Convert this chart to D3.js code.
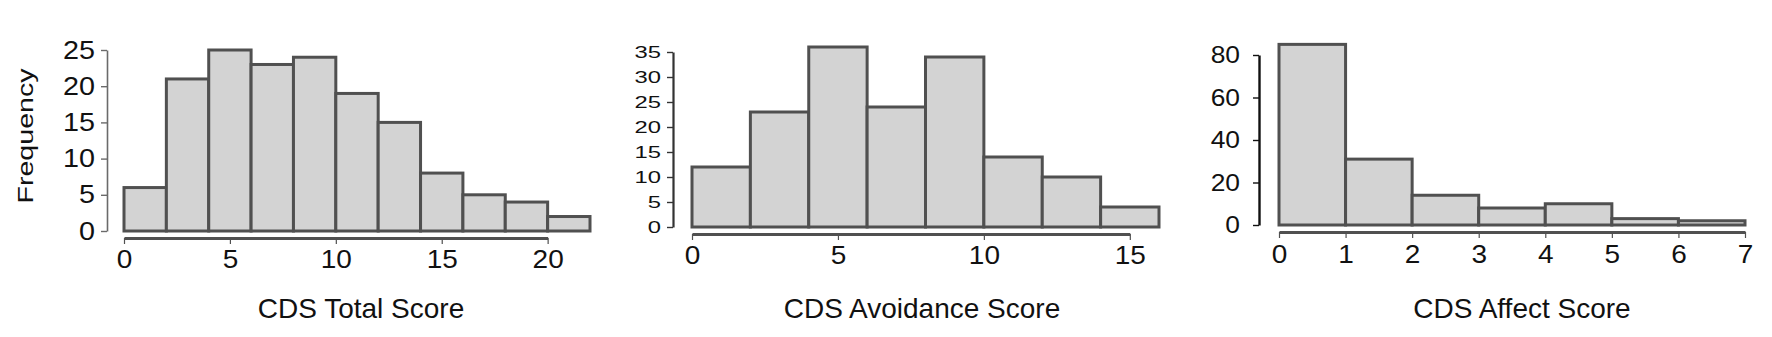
<!DOCTYPE html>
<html>
<head>
<meta charset="utf-8">
<script src="https://cdn.jsdelivr.net/npm/d3@7"></script>
<style>
body { margin:0; background:#fff; }
svg { display:block; }
text { font-family: "Liberation Sans", Arial, sans-serif; fill:#111; }
</style>
</head>
<body>
<svg id="chart"></svg>
<script>
// histogram counts, bins of width 2 from 0
var totalCounts = [6, 21, 25, 23, 24, 19, 15, 8, 5, 4, 2]
var totalXTicks = [0, 5, 10, 15, 20]
var totalYTicks = [0, 5, 10, 15, 20, 25]

var avoidCounts = [12, 23, 36, 24, 34, 14, 10, 4]
var avoidXTicks = [0, 5, 10, 15]
var avoidYTicks = [0, 5, 10, 15, 20, 25, 30, 35]

// bins of width 1
var affectCounts = [85, 31, 14, 8, 10, 3, 2]
var affectXTicks = [0, 1, 2, 3, 4, 5, 6, 7]
var affectYTicks = [0, 20, 40, 60, 80]

var width = 1772, height = 337
var svg = d3.select("#chart").attr("width", width).attr("height", height)

// the original labels are a bit wider than Arial, so stretch them sideways
var panels = [
    {counts: totalCounts, bin: 2, xTicks: totalXTicks, yTicks: totalYTicks, title: "CDS Total Score",
     xr: [124, 590], yr: [231, 50], xAxisY: 238, yAxisX: 107, yFont: 25, yStretch: 1.15, yPad: 6, xPad: 6,
     axisColor: "#6a6a6a", axisW: 1.6, titleX: 361},
    {counts: avoidCounts, bin: 2, xTicks: avoidXTicks, yTicks: avoidYTicks, title: "CDS Avoidance Score",
     xr: [692, 1159], yr: [227, 52], xAxisY: 234, yAxisX: 673, yFont: 17, yStretch: 1.4, yPad: 6, xPad: 6,
     axisColor: "#333", axisW: 2.2, titleX: 922},
    {counts: affectCounts, bin: 1, xTicks: affectXTicks, yTicks: affectYTicks, title: "CDS Affect Score",
     xr: [1279, 1745], yr: [225, 55], xAxisY: 232, yAxisX: 1259, yFont: 24, yStretch: 1.1, yPad: 13, xPad: 7,
     axisColor: "#111", axisW: 2.4, titleX: 1522}
]

var drawPanel = function(p)
{
    var n = p.counts.length
    var xScale = d3.scaleLinear().domain([0, n * p.bin]).range(p.xr)
    var yScale = d3.scaleLinear().domain([0, d3.max(p.yTicks)]).range(p.yr)

    var bins = p.counts.map(function(c, i) { return {x0: i * p.bin, x1: (i + 1) * p.bin, count: c} })

    var g = svg.append("g")

    g.selectAll("rect")
        .data(bins)
        .enter()
        .append("rect")
        .attr("x", function(d) { return xScale(d.x0) })
        .attr("y", function(d) { return yScale(d.count) })
        .attr("width", function(d) { return xScale(d.x1) - xScale(d.x0) })
        .attr("height", function(d) { return yScale(0) - yScale(d.count) })
        .attr("fill", "#d3d3d3")
        .attr("stroke", "#505050")
        .attr("stroke-width", 3)

    // x axis only runs to the last tick, R style
    var lastX = d3.max(p.xTicks)
    var xAxisScale = xScale.copy().domain([0, lastX]).range([xScale(0), xScale(lastX)])
    var xAxis = d3.axisBottom(xAxisScale)
        .tickValues(p.xTicks)
        .tickSize(6)
        .tickSizeOuter(0)
        .tickPadding(p.xPad)
        .tickFormat(d3.format("d"))

    var xg = g.append("g")
        .attr("transform", "translate(0," + p.xAxisY + ")")
        .call(xAxis)
    xg.select(".domain").attr("stroke", "#505050").attr("stroke-width", 3)
    xg.selectAll(".tick line").attr("stroke", "#505050").attr("stroke-width", 1.2)
    xg.selectAll("text")
        .style("font-size", "25px")
        .attr("fill", "#111")
        .attr("transform", "scale(1.12,1)")

    var yAxis = d3.axisLeft(yScale)
        .tickValues(p.yTicks)
        .tickSize(6)
        .tickSizeOuter(0)
        .tickPadding(p.yPad)
        .tickFormat(d3.format("d"))

    var yg = g.append("g")
        .attr("transform", "translate(" + p.yAxisX + ",0)")
        .call(yAxis)
    yg.select(".domain").attr("stroke", p.axisColor).attr("stroke-width", p.axisW)
    yg.selectAll(".tick line").attr("stroke", p.axisColor).attr("stroke-width", 1.4)
    yg.selectAll("text")
        .style("font-size", p.yFont + "px")
        .attr("fill", "#111")
        .attr("x", -(6 + p.yPad) / p.yStretch)
        .attr("transform", "scale(" + p.yStretch + ",1)")

    g.append("text")
        .text(p.title)
        .attr("x", p.titleX)
        .attr("y", 318)
        .attr("text-anchor", "middle")
        .style("font-size", "28px")
}

panels.forEach(drawPanel)

svg.append("text")
    .text("Frequency")
    .attr("transform", "translate(33,136) rotate(-90) scale(1.3,1)")
    .attr("text-anchor", "middle")
    .style("font-size", "22px")
</script>
</body>
</html>
